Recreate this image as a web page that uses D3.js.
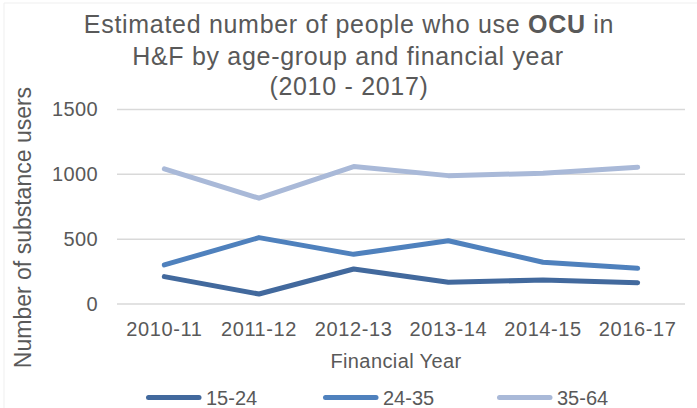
<!DOCTYPE html>
<html>
<head>
<meta charset="utf-8">
<script src="https://cdn.jsdelivr.net/npm/d3@7"></script>
<style>
  html, body { margin: 0; padding: 0; background: #fff; }
  svg { display: block; font-family: "Liberation Sans", Arial, sans-serif; }
</style>
</head>
<body>
<svg id="chart" width="697" height="408"></svg>
<script>
// Financial years on the x axis
const years = ["2010-11", "2011-12", "2012-13", "2013-14", "2014-15", "2016-17"];
// Age groups and their estimated OCU user counts
const groups = ["15-24", "24-35", "35-64"];
const users1524 = [211, 77, 270, 167, 185, 164];
const users2435 = [301, 512, 383, 488, 322, 275];
const users3564 = [1042, 816, 1060, 990, 1008, 1055];
const yTicks = [0, 500, 1000, 1500];
const colors = ["#42699d", "#4f81bd", "#a9b9d8"];

const seriesValues = [users1524, users2435, users3564];

const svg = d3.select("#chart");
const textColor = "#595959";

// faint chart frame
svg.append("path")
  .attr("d", "M4,410 L4,3 L700,3")
  .attr("fill", "none")
  .attr("stroke", "#efefef")
  .attr("stroke-width", 1);

const plot = { left: 117, right: 685, top: 109.5, bottom: 304 };

const x = d3.scaleBand().domain(years).range([plot.left, plot.right]);
const y = d3.scaleLinear().domain([0, 1500]).range([plot.bottom, plot.top]);

// gridlines
svg.append("g")
  .selectAll("line")
  .data(yTicks)
  .join("line")
  .attr("x1", plot.left)
  .attr("x2", plot.right)
  .attr("y1", d => y(d))
  .attr("y2", d => y(d))
  .attr("stroke", "#d9d9d9")
  .attr("stroke-width", 1.5);

// y axis labels
const yAxis = svg.append("g")
  .attr("transform", `translate(${plot.left - 8},0)`)
  .call(d3.axisLeft(y).tickValues(yTicks).tickFormat(d3.format("d")).tickSize(0).tickPadding(11));
yAxis.select(".domain").remove();
yAxis.selectAll("text")
  .attr("fill", textColor)
  .attr("font-size", 20)
  .attr("letter-spacing", 0.4)
  .attr("font-family", "Liberation Sans, Arial, sans-serif");

// x axis labels
const xAxis = svg.append("g")
  .attr("transform", `translate(0,${plot.bottom})`)
  .call(d3.axisBottom(x).tickSize(0).tickPadding(18));
xAxis.select(".domain").remove();
xAxis.selectAll("text")
  .attr("fill", textColor)
  .attr("font-size", 20)
  .attr("letter-spacing", 0.6)
  .attr("font-family", "Liberation Sans, Arial, sans-serif");

// series lines
const line = d3.line()
  .x((d, i) => x(years[i]) + x.bandwidth() / 2)
  .y(d => y(d));

svg.append("g")
  .selectAll("path")
  .data(seriesValues)
  .join("path")
  .attr("d", d => line(d))
  .attr("fill", "none")
  .attr("stroke", (d, i) => colors[i])
  .attr("stroke-width", 5)
  .attr("stroke-linejoin", "round")
  .attr("stroke-linecap", "round");

// title
const title = svg.append("text")
  .attr("text-anchor", "middle")
  .attr("fill", textColor)
  .attr("font-size", 25)
  .attr("letter-spacing", 0.7);
const t1 = title.append("tspan").attr("x", 349).attr("y", 33);
t1.append("tspan").text("Estimated number of people who use ");
t1.append("tspan").attr("font-weight", "bold").text("OCU");
t1.append("tspan").text(" in");
title.append("tspan").attr("x", 348).attr("y", 64.5).text("H&F by age-group and financial year");
title.append("tspan").attr("x", 349).attr("y", 95).text("(2010 - 2017)");

// axis titles
svg.append("text")
  .attr("x", 396)
  .attr("y", 368)
  .attr("text-anchor", "middle")
  .attr("fill", textColor)
  .attr("font-size", 20)
  .attr("letter-spacing", 0.4)
  .text("Financial Year");

svg.append("text")
  .attr("transform", "translate(31,227.5) rotate(-90)")
  .attr("text-anchor", "middle")
  .attr("fill", textColor)
  .attr("font-size", 23)
  .text("Number of substance users");

// legend
const legendX = [146, 323, 497];
const legend = svg.append("g")
  .selectAll("g")
  .data(groups)
  .join("g")
  .attr("transform", (d, i) => `translate(${legendX[i]},397.5)`);
legend.append("line")
  .attr("x1", 2.5)
  .attr("x2", 53)
  .attr("stroke", (d, i) => colors[i])
  .attr("stroke-width", 5)
  .attr("stroke-linecap", "round");
legend.append("text")
  .attr("x", 60)
  .attr("y", 7)
  .attr("fill", textColor)
  .attr("font-size", 20)
  .text(d => d);
</script>
</body>
</html>
